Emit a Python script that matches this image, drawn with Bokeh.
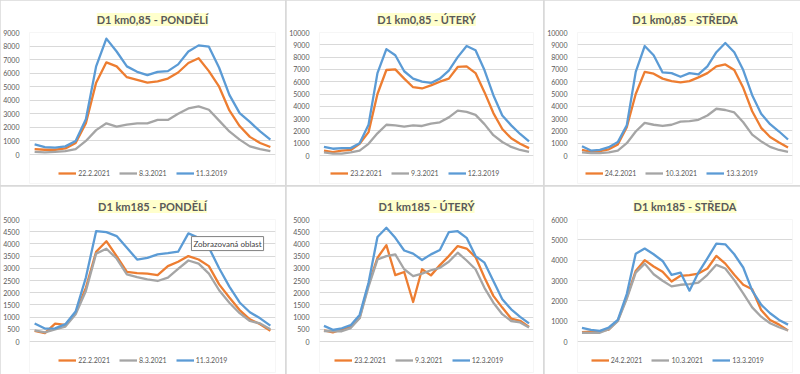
from bokeh.plotting import figure
from bokeh.models import (Range1d, FixedTicker, Legend, LegendItem, Label, GridBox)
from bokeh.embed import file_html
from bokeh.resources import INLINE

hours = list(range(24))

# ---- D1 km0,85 - PONDĚLÍ
km085_po_a = [400, 350, 350, 450, 850, 2300, 5300, 6800, 6500, 5700, 5500, 5300,
              5400, 5600, 6050, 6750, 7100, 6150, 5000, 3250, 2100, 1300, 850, 550]
km085_po_b = [200, 150, 200, 250, 400, 1000, 1800, 2300, 2050, 2200, 2300, 2300,
              2550, 2550, 3000, 3400, 3550, 3300, 2500, 1700, 1100, 600, 400, 250]
km085_po_c = [750, 550, 500, 600, 1000, 2600, 6500, 8550, 7600, 6500, 6100, 5850,
              6100, 6150, 6650, 7600, 8050, 7950, 6400, 4400, 3050, 2400, 1700, 1100]
# ---- D1 km0,85 - ÚTERÝ
km085_ut_a = [400, 270, 400, 450, 950, 1900, 5000, 6950, 7000, 6250, 5550, 5450,
              5700, 6000, 6250, 7200, 7250, 6700, 5150, 3450, 2150, 1400, 950, 600]
km085_ut_b = [250, 150, 150, 250, 400, 950, 1800, 2500, 2450, 2350, 2450, 2400,
              2600, 2700, 3100, 3650, 3550, 3300, 2550, 1650, 1100, 700, 450, 300]
km085_ut_c = [700, 550, 600, 600, 1000, 2500, 6700, 8650, 8150, 6850, 6250, 6000,
              5900, 6250, 6900, 8000, 8900, 8550, 6950, 4900, 3250, 2450, 1750, 1150]
# ---- D1 km0,85 - STŘEDA
km085_st_a = [450, 300, 350, 500, 900, 2300, 5000, 6800, 6650, 6250, 6050, 5950,
              6050, 6350, 6700, 7250, 7400, 6950, 5500, 3600, 2250, 1500, 1050, 650]
km085_st_b = [250, 200, 200, 250, 400, 1000, 1950, 2650, 2500, 2400, 2500, 2750,
              2800, 2900, 3250, 3800, 3700, 3500, 2700, 1700, 1150, 700, 450, 300]
km085_st_c = [750, 400, 460, 680, 1090, 2450, 6800, 8900, 8150, 6750, 6700, 6400,
              6700, 6600, 7250, 8400, 9150, 8400, 6950, 4900, 3400, 2550, 1950, 1300]
# ---- D1 km185 - PONDĚLÍ
km185_po_a = [440, 340, 730, 680, 1180, 2200, 3680, 4110, 3500, 2850, 2800, 2780,
              2720, 3090, 3270, 3500, 3360, 3090, 2340, 1800, 1290, 910, 710, 440]
km185_po_b = [460, 370, 500, 610, 1120, 2070, 3600, 3800, 3400, 2750, 2640, 2550,
              2480, 2620, 2980, 3320, 3190, 2780, 2100, 1590, 1160, 840, 740, 500]
km185_po_c = [740, 530, 540, 710, 1230, 2620, 4520, 4480, 4320, 3840, 3360, 3430,
              3570, 3620, 3680, 4430, 4250, 3850, 3000, 2250, 1600, 1200, 950, 650]
# ---- D1 km185 - ÚTERÝ
km185_ut_a = [460, 370, 500, 600, 980, 2340, 3430, 3950, 2720, 2850, 1620, 2960,
              2710, 3130, 3500, 3910, 3810, 3460, 2620, 1870, 1390, 940, 850, 600]
km185_ut_b = [430, 420, 420, 550, 950, 2250, 3360, 3500, 3570, 2960, 2680, 2780,
              2920, 3020, 3270, 3640, 3320, 2960, 2200, 1590, 1120, 840, 780, 570]
km185_ut_c = [640, 480, 540, 670, 1090, 2410, 4280, 4660, 4250, 3730, 3600, 3340,
              3570, 3750, 4480, 4520, 4250, 3500, 3230, 2480, 1730, 1320, 1010, 740]
# ---- D1 km185 - STŘEDA
km185_st_a = [460, 490, 510, 590, 1030, 2170, 3470, 4000, 3690, 3430, 2950, 3230,
              3260, 3340, 3590, 4210, 3830, 3280, 2790, 2570, 1550, 1060, 830, 540]
km185_st_b = [430, 420, 430, 600, 1000, 2100, 3390, 3830, 3310, 2990, 2710, 2790,
              2820, 2900, 3280, 3770, 3590, 3020, 2370, 1680, 1220, 900, 700, 540]
km185_st_c = [670, 570, 520, 690, 1060, 2330, 4320, 4570, 4290, 3960, 3280, 3390,
              2500, 3390, 4090, 4810, 4780, 4290, 3640, 2500, 1810, 1390, 1060, 830]

titles = ["D1 km0,85 - PONDĚLÍ", "D1 km0,85 - ÚTERÝ", "D1 km0,85 - STŘEDA",
          "D1 km185 - PONDĚLÍ", "D1 km185 - ÚTERÝ", "D1 km185 - STŘEDA"]
legend_labels = [["22.2.2021", "8.3.2021", "11.3.2019"],
                 ["23.2.2021", "9.3.2021", "12.3.2019"],
                 ["24.2.2021", "10.3.2021", "13.3.2019"],
                 ["22.2.2021", "8.3.2021", "11.3.2019"],
                 ["23.2.2021", "9.3.2021", "12.3.2019"],
                 ["24.2.2021", "10.3.2021", "13.3.2019"]]
series = [[km085_po_a, km085_po_b, km085_po_c],
          [km085_ut_a, km085_ut_b, km085_ut_c],
          [km085_st_a, km085_st_b, km085_st_c],
          [km185_po_a, km185_po_b, km185_po_c],
          [km185_ut_a, km185_ut_b, km185_ut_c],
          [km185_st_a, km185_st_b, km185_st_c]]
y_max = [9000, 10000, 10000, 5000, 5000, 6000]
y_step = [1000, 1000, 1000, 500, 500, 1000]
tooltip_text = "Zobrazovaná oblast"

colors = ["#ED7D31", "#A5A5A5", "#5B9BD5"]
FONT = "Lato"
LEG_FS = 7.0
GLYPH_W, STANDOFF, SPACING = 18, 2, 9

col_w = [285, 257, 256]
row_h = [185, 188]
left_b = [28, 32, 33, 28, 28, 27]
right_b = [10, 10, 8, 10, 10, 8]
top_b = [32, 32, 32, 33, 33, 33]
bot_b = 2
plot_h = [122, 123, 123, 122, 122, 122]   # pixel height of the 0..max part
leg_bottom = [6, 6, 6, 8, 8, 8]           # legend bottom above frame bottom (px)


def text_w(s, fs):
    w = 0.0
    for ch in s:
        w += 0.27 if ch in ".," else 0.58
    return w * fs


figs = []
for i in range(6):
    r, c = divmod(i, 3)
    W, H = col_w[c], row_h[r]
    frame_h = H - top_b[i] - bot_b
    ext = frame_h - plot_h[i]
    y_lo = -y_max[i] * ext / plot_h[i]
    p = figure(width=W, height=H, output_backend="svg", toolbar_location=None,
               x_range=Range1d(-0.5, 23.5), y_range=Range1d(y_lo, y_max[i]),
               min_border_left=left_b[i], min_border_right=right_b[i],
               min_border_top=top_b[i], min_border_bottom=bot_b,
               background_fill_color="white", border_fill_color="white",
               outline_line_color=None)
    p.xaxis.visible = False
    p.xgrid.visible = False

    frame_w = W - left_b[i] - right_b[i]
    frame_c = left_b[i] + frame_w / 2
    p.title.text = titles[i]
    p.title.align = "center"
    p.title.offset = W / 2 - frame_c
    p.title.text_font = FONT
    p.title.text_font_style = "bold"
    p.title.text_font_size = "11px"
    p.title.text_color = "#595959"
    p.title.background_fill_color = "#FFFFCC"
    p.title.standoff = 13

    ticks = list(range(0, y_max[i] + 1, y_step[i]))
    p.yaxis.ticker = FixedTicker(ticks=ticks)
    p.yaxis.axis_line_color = None
    p.yaxis.major_tick_line_color = None
    p.yaxis.minor_tick_line_color = None
    p.yaxis.major_label_text_font = FONT
    p.yaxis.major_label_text_font_size = "7px"
    p.yaxis.major_label_text_color = "#595959"
    p.yaxis.major_label_standoff = 4
    p.ygrid.grid_line_color = "#D9D9D9"

    items = []
    for s, col, lab in zip(series[i], colors, legend_labels[i]):
        rend = p.line(hours, s, line_color=col, line_width=2.3, line_join="round")
        items.append(LegendItem(label=lab, renderers=[rend]))
    leg_w = sum(GLYPH_W + STANDOFF + text_w(l, LEG_FS) for l in legend_labels[i]) \
        + SPACING * (len(legend_labels[i]) - 1)
    leg_x = W / 2 - left_b[i] - leg_w / 2
    leg = Legend(items=items, orientation="horizontal",
                 location=(leg_x, leg_bottom[i]),
                 border_line_color=None, background_fill_alpha=0,
                 label_text_font=FONT, label_text_font_size="%gpx" % LEG_FS,
                 label_text_color="#595959", glyph_width=GLYPH_W, glyph_height=8,
                 label_standoff=STANDOFF, spacing=SPACING, padding=0, margin=0,
                 label_height=8)
    p.add_layout(leg, "center")
    figs.append(p)

# Excel hover tooltip visible in the screenshot
tip = Label(x=15.3, y=4300, text=tooltip_text, text_font=FONT,
            text_font_size="8px", text_color="#404040",
            text_baseline="top", text_align="left", padding=2,
            background_fill_color="white", border_line_color="#808080")
figs[3].add_layout(tip)

grid = GridBox(children=[(figs[i], i // 3, i % 3) for i in range(6)], spacing=1,
               styles={"background-color": "#D9D9D9"})

open("out.html", "w").write(file_html(grid, INLINE))
